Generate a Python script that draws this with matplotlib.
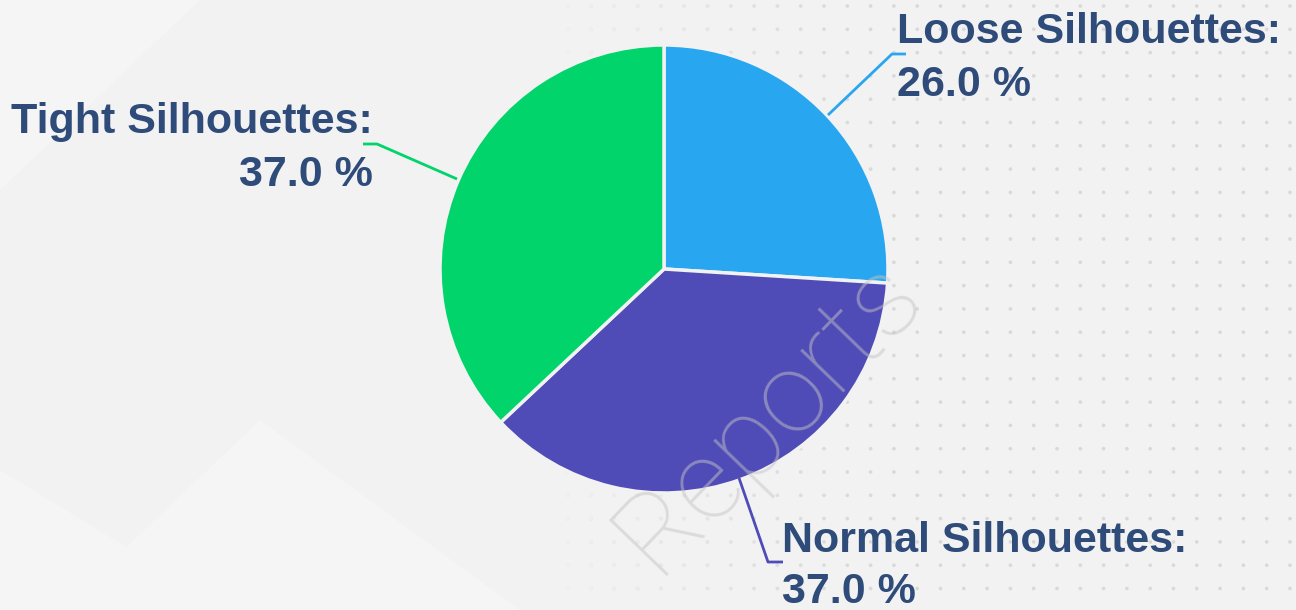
"""
Silhouette share pie chart
"""

import matplotlib.pyplot as plt
import numpy as np
from matplotlib.patches import Polygon

W, H = 1296, 610

labels = ["Loose Silhouettes", "Normal Silhouettes", "Tight Silhouettes"]
shares = [26.0, 37.0, 37.0]
colors = ["#29A6F0", "#4F4CB8", "#00D46A"]

BG = "#F2F2F2"
TEXT = "#2E4B7A"
FONT = "Liberation Sans"


def py(y):
    # pixel row (from top) -> data y
    return H - y


fig = plt.figure(figsize=(W / 100, H / 100), dpi=100, facecolor=BG)
ax = fig.add_axes([0, 0, 1, 1])
ax.set_facecolor(BG)

# soft lighter panels on the left
for pts in [
    [(0, py(0)), (200, py(0)), (0, py(190))],
    [(0, py(470)), (230, py(610)), (0, py(610))],
    [(60, py(610)), (260, py(420)), (520, py(610))],
]:
    ax.add_patch(Polygon(pts, closed=True, facecolor="#F5F5F5", edgecolor="none", zorder=0))

# dotted texture on the right
gx = np.arange(1290, 560, -23.3)
gy = np.arange(6, 610, 23.3)
XX, YY = np.meshgrid(gx, gy)
fade = np.clip((XX - 560) / 300, 0, 1)
ax.scatter(XX.ravel(), py(YY.ravel()), s=7, c="#D9D9D9",
           edgecolors="none", zorder=1)
ax.scatter(XX.ravel(), py(YY.ravel()), s=7, c=BG, alpha=1 - fade.ravel(),
           edgecolors="none", zorder=1)

ax.pie(
    shares,
    colors=colors,
    startangle=90,
    counterclock=False,
    center=(664, py(269)),
    radius=224,
    wedgeprops=dict(edgecolor=BG, linewidth=2.5, zorder=2),
)

# watermark
ax.text(768, py(415), "Reports", fontsize=82, family="Roboto", fontweight="light",
        color="#C4C4C4", alpha=0.5, rotation=46, ha="center", va="center", zorder=3)

# leader lines (pixel coords)
leaders = [
    [(828, 115), (892, 54), (906, 54)],
    [(739, 478), (768, 562), (783, 562)],
    [(457, 179), (377, 144), (363, 144)],
]
for pts, c in zip(leaders, colors):
    xs = [p[0] for p in pts]
    ys = [py(p[1]) for p in pts]
    ax.plot(xs, ys, color=c, lw=2, solid_capstyle="butt", zorder=4)

# labels: (x, baseline of first line, baseline of second line, ha)
label_pos = [
    (897, 43, 96, "left"),
    (782, 552, 603, "left"),
    (373, 133, 186, "right"),
]
for (x, b1, b2, ha), name, val in zip(label_pos, labels, shares):
    ax.text(x, py(b1), f"{name}:", fontsize=31, family=FONT, fontweight="bold",
            color=TEXT, ha=ha, va="baseline", zorder=5)
    ax.text(x, py(b2), f"{val:.1f} %", fontsize=31, family=FONT, fontweight="bold",
            color=TEXT, ha=ha, va="baseline", zorder=5)

ax.set_xlim(0, W)
ax.set_ylim(0, H)
ax.axis("off")

plt.savefig("out.png", dpi=100, facecolor=BG)
plt.close()
